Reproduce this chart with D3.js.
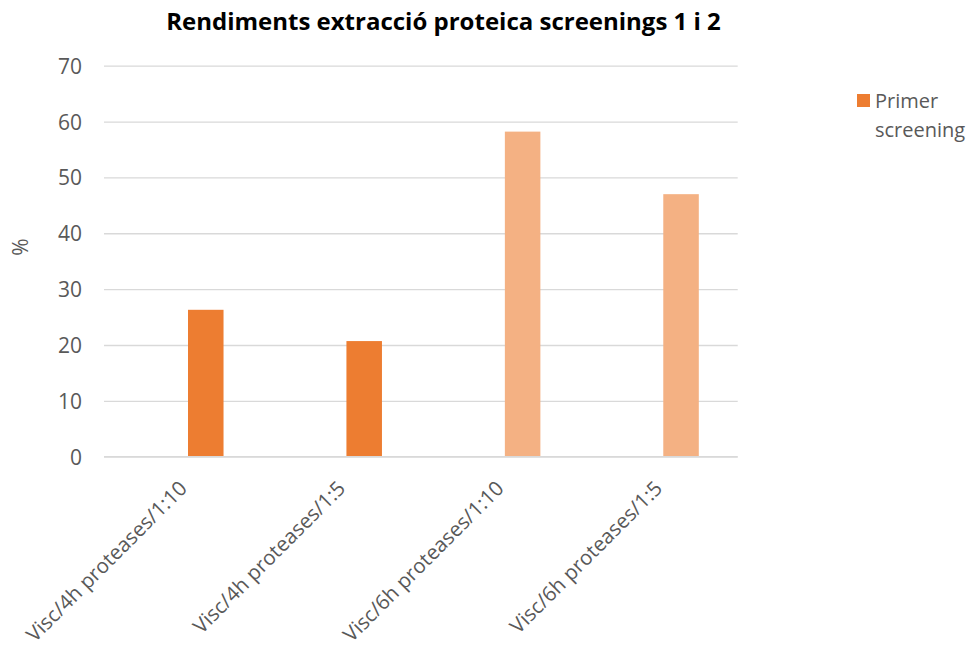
<!DOCTYPE html>
<html>
<head>
<meta charset="utf-8">
<script src="https://cdn.jsdelivr.net/npm/d3@7"></script>
<style>
  html, body { margin: 0; padding: 0; background: #fff; }
  svg { display: block; }
  svg text { font-family: "Open Sans", "Noto Sans", sans-serif; }
</style>
</head>
<body>
<svg id="chart" width="970" height="651"></svg>
<script>
// Protein extraction yields, screenings 1 and 2
const categories = [
  "Visc/4h proteases/1:10",
  "Visc/4h proteases/1:5",
  "Visc/6h proteases/1:10",
  "Visc/6h proteases/1:5"
];
const rendiment = [26.3, 20.7, 58.2, 47.0];   // %
const screening = [1, 1, 2, 2];               // which screening each value belongs to
const yTicks = [0, 10, 20, 30, 40, 50, 60, 70];
const legendLabel = ["Primer", "screening"];
const titleText = "Rendiments extracció proteica screenings 1 i 2";
const yLabel = "%";

const colours = { 1: "#ED7D31", 2: "#F4B183" };
const FONT = "'Open Sans', 'Noto Sans', sans-serif";

const svg = d3.select("#chart");
const plot = { left: 104, right: 737.7, top: 65.7, bottom: 456.7 };

const x0 = d3.scaleBand()
  .domain(categories)
  .range([plot.left, plot.right]);

// clustered-column geometry: two slots per category, gap width 219 %, overlap -27 %
const nSlots = 2, gapWidth = 2.19, overlap = -0.27, slot = 1;
const barW = x0.bandwidth() / (nSlots + (nSlots - 1) * -overlap + gapWidth);
const barX = c => x0(c) + gapWidth * barW / 2 + slot * barW * (1 - overlap);

const y = d3.scaleLinear()
  .domain([0, 70])
  .range([plot.bottom, plot.top]);

// gridlines + tick labels
const yAxis = d3.axisLeft(y)
  .tickValues(yTicks)
  .tickSize(-(plot.right - plot.left))
  .tickPadding(22);

const gy = svg.append("g")
  .attr("transform", `translate(${plot.left},0)`)
  .call(yAxis)
  .attr("font-family", FONT)
  .attr("font-size", 21);
gy.select(".domain").remove();
gy.selectAll(".tick line")
  .attr("stroke", "#D9D9D9")
  .attr("stroke-width", 1.3);
gy.selectAll(".tick text")
  .attr("fill", "#595959")
  .attr("dy", "0.36em");

// bars
svg.append("g")
  .selectAll("rect")
  .data(categories)
  .join("rect")
  .attr("x", c => barX(c))
  .attr("width", barW)
  .attr("y", (c, i) => y(rendiment[i]))
  .attr("height", (c, i) => y(0) - y(rendiment[i]))
  .attr("fill", (c, i) => colours[screening[i]]);

// zero line over the bars' feet
svg.append("line")
  .attr("x1", plot.left).attr("x2", plot.right)
  .attr("y1", y(0)).attr("y2", y(0))
  .attr("stroke", "#D9D9D9")
  .attr("stroke-width", 1.3);

// rotated category labels
const xAxis = d3.axisBottom(x0).tickSize(0).tickPadding(0);
const gx = svg.append("g")
  .attr("transform", `translate(0,${plot.bottom})`)
  .call(xAxis)
  .attr("font-family", FONT)
  .attr("font-size", 20.5);
gx.select(".domain").remove();
gx.selectAll(".tick text")
  .attr("fill", "#595959")
  .attr("text-anchor", "end")
  .attr("dy", null)
  .attr("y", 0)
  .attr("transform", "translate(5,33) rotate(-45)");

// y-axis title
svg.append("text")
  .attr("transform", `translate(28,247) rotate(-90)`)
  .attr("text-anchor", "middle")
  .attr("fill", "#595959")
  .style("font-size", "21px")
  .text(yLabel);

// chart title
svg.append("text")
  .attr("x", 443.5)
  .attr("y", 30)
  .attr("text-anchor", "middle")
  .attr("fill", "#000")
  .style("font-size", "24px")
  .style("font-weight", "bold")
  .text(titleText);

// legend
const lg = svg.append("g").attr("transform", "translate(857,94)");
lg.append("rect")
  .attr("width", 13).attr("height", 13)
  .attr("fill", colours[1]);
lg.append("text")
  .attr("fill", "#595959")
  .style("font-size", "20px")
  .selectAll("tspan")
  .data(legendLabel)
  .join("tspan")
  .attr("x", 18)
  .attr("y", (d, i) => 14 + i * 29)
  .text(d => d);
</script>
</body>
</html>
